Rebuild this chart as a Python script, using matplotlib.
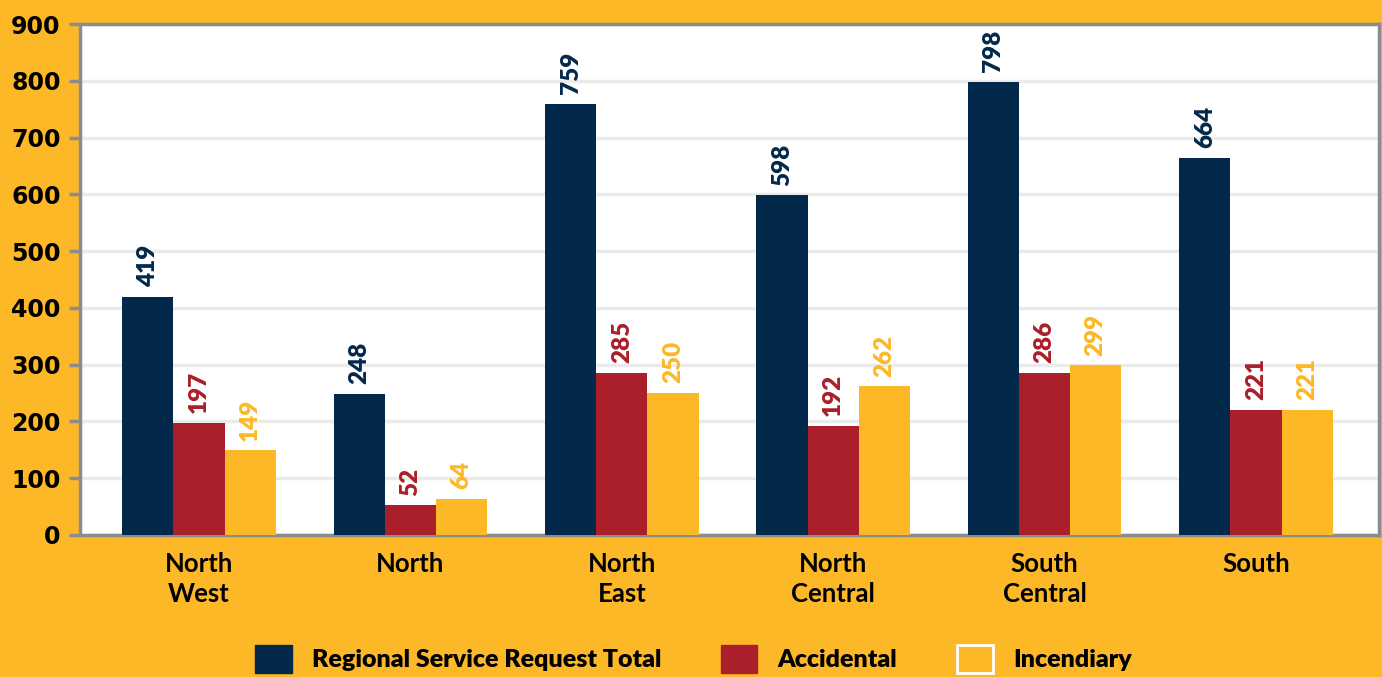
import matplotlib
matplotlib.use("Agg")
import matplotlib.pyplot as plt
from matplotlib.patches import Patch
import numpy as np

categories = ["North\nWest", "North", "North\nEast", "North\nCentral", "South\nCentral", "South"]
total = [419, 248, 759, 598, 798, 664]
accidental = [197, 52, 285, 192, 286, 221]
incendiary = [149, 64, 250, 262, 299, 221]
series_names = ["Regional Service Request Total", "Accidental", "Incendiary"]
yticks = [0, 100, 200, 300, 400, 500, 600, 700, 800, 900]

NAVY = "#02284B"
RED = "#AA1F2A"
GOLD = "#FDB827"
GRID = "#EBEBEB"
SPINE = "#8C8C8C"

plt.rcParams['font.family'] = ['Lato', 'DejaVu Sans']

fig = plt.figure(figsize=(13.82, 6.77), dpi=100, facecolor=GOLD)
ax = fig.add_axes([80/1382, 1-535/677, (1379-80)/1382, (535-24)/677])
ax.set_facecolor("white")

x = np.arange(len(categories))
w = 0.242
colors = [NAVY, RED, GOLD]
for i, (vals, col) in enumerate(zip([total, accidental, incendiary], colors)):
    bars = ax.bar(x + (i-1)*w, vals, width=w, color=col, zorder=3, linewidth=0)
    for b, v in zip(bars, vals):
        ax.annotate(str(v), (b.get_x()+b.get_width()/2, b.get_height()),
                    xytext=(0, 7), textcoords="offset points", rotation=90,
                    ha="center", va="bottom", color=col, fontsize=17.5, fontweight="heavy")

ax.set_ylim(0, 900)
ax.set_xlim(-0.563, 5.582)
ax.set_yticks(yticks)
ax.set_yticklabels([str(t) for t in yticks], family=['DejaVu Sans'], fontsize=17, fontweight='bold')
ax.yaxis.grid(True, color=GRID, linewidth=2.5, zorder=0)
ax.set_axisbelow(True)
ax.set_xticks(x)
ax.set_xticklabels(categories, fontsize=18.5, fontweight="bold", linespacing=1.3)
ax.tick_params(axis='x', length=0, pad=12)
ax.tick_params(axis='y', length=8, width=2.5, color=SPINE, pad=6)
for s in ax.spines.values():
    s.set_color(SPINE)
    s.set_linewidth(2.5)

handles = [Patch(facecolor=NAVY, edgecolor=NAVY),
           Patch(facecolor=RED, edgecolor=RED),
           Patch(facecolor=GOLD, edgecolor="white", linewidth=2)]
fig.legend(handles, series_names, loc="lower center", bbox_to_anchor=(0.502, -0.028), ncol=3,
           frameon=False, prop={'weight': 'heavy', 'size': 18},
           handlelength=1.45, handleheight=1.4, columnspacing=2.4, handletextpad=0.8)

fig.savefig("out.png", dpi=100, facecolor=GOLD)
